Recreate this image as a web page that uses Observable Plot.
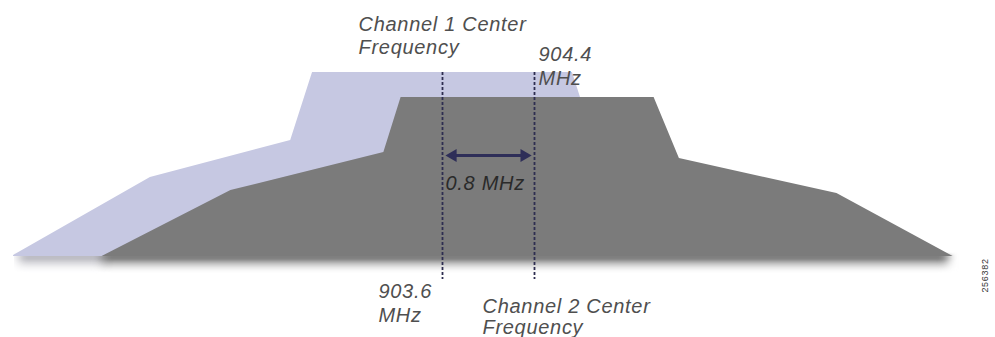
<!DOCTYPE html>
<html><head><meta charset="utf-8">
<script src="https://cdn.jsdelivr.net/npm/d3@7"></script>
<script src="https://cdn.jsdelivr.net/npm/@observablehq/plot@0.6"></script>
<style>body{margin:0;background:#fff}</style>
</head><body><div id="chart"></div>
<script>
// Channel spectra: frequency (MHz) and relative level
const channel1Freq  = [899.87, 901.06, 902.28, 902.47, 904.73, 904.92, 906.14, 907.33];
const channel1Level = [1, 79, 116, 184, 184, 116, 79, 1];
const channel2Freq  = [900.64, 901.76, 903.09, 903.24, 905.44, 905.66, 907.03, 908.04];
const channel2Level = [0, 66, 104, 159, 159, 98, 63, 0];
// Center frequencies and the spacing arrow
const centerFreqs = [903.6, 904.4];
const centerLineTop = 184, centerLineBottom = -23;
const spacingFreqs = [903.627, 904.374];
const spacingLevel = 101;
// Labels
const labelText  = ["Channel 1 Center", "Frequency", "904.4", "MHz", "0.8 MHz", "903.6", "MHz", "Channel 2 Center", "Frequency"];
const labelFreq  = [902.870, 902.870, 904.435, 904.435, 903.626, 903.043, 903.043, 903.948, 903.948];
const labelLevel = [226, 203, 196, 172, 67, -41, -65, -56, -77];
const labelInside = [false, false, false, false, true, false, false, false, false];
const figureNumber = ["256382"];
const figureFreq = [908.322], figureLevel = [-19];
// Ground shadow segments
const shadowFrom  = [899.92, 900.64];
const shadowTo    = [900.70, 908.00];
const shadowTone  = ["#bdbdc4", "#7f7f7f"];
const shadowDepth = -18;

const W = 995, H = 337;
const pxPerMHz = 115, refPx = 442;
const xDomain = [centerFreqs[0] - refPx / pxPerMHz, centerFreqs[0] + (W - refPx) / pxPerMHz];

const ch1 = channel1Freq.map((f, i) => ({f, l: channel1Level[i]}));
const ch2 = channel2Freq.map((f, i) => ({f, l: channel2Level[i]}));
const labels = labelText.map((t, i) => ({t, f: labelFreq[i], l: labelLevel[i], inside: labelInside[i]}));
const spacing = [{a: spacingFreqs[0] + 0.05, b: spacingFreqs[1] - 0.05, l: spacingLevel}];

function shadow(index, {x, y}) {
  const g = d3.create("svg:g");
  const defs = g.append("defs");
  const flt = defs.append("filter").attr("id", "shadowBlur")
    .attr("x", "-5%").attr("width", "110%").attr("y", "-20%").attr("height", "140%");
  flt.append("feGaussianBlur").attr("stdDeviation", "5 1");
  shadowFrom.forEach((f0, i) => {
    const grad = defs.append("linearGradient").attr("id", "shadowGrad" + i)
      .attr("x1", 0).attr("x2", 0).attr("y1", 0).attr("y2", 1);
    grad.append("stop").attr("offset", "0%").attr("stop-color", shadowTone[i]);
    grad.append("stop").attr("offset", "25%").attr("stop-color", shadowTone[i]);
    grad.append("stop").attr("offset", "100%").attr("stop-color", "#ffffff").attr("stop-opacity", 0);
    const x0 = x(f0), x1 = x(shadowTo[i]);
    const y0 = y(2), y1 = y(shadowDepth);
    g.append("rect").attr("x", x0).attr("y", y0).attr("width", x1 - x0).attr("height", y1 - y0)
      .attr("fill", `url(#shadowGrad${i})`).attr("filter", "url(#shadowBlur)");
  });
  return g.node();
}

const plot = Plot.plot({
  width: W, height: H,
  margin: 0,
  x: {domain: xDomain, range: [0, W], axis: null},
  y: {domain: [0, 256], range: [256, 0], axis: null},
  style: {fontFamily: "'Liberation Sans', Arial, sans-serif", background: "#fff", letterSpacing: "0.7px"},
  marks: [
    shadow,
    Plot.areaY(ch1, {x: "f", y: "l", fill: "#c6c8e2"}),
    Plot.areaY(ch2, {x: "f", y: "l", fill: "#7b7b7b"}),
    Plot.ruleX(centerFreqs, {x: d => d, y1: centerLineTop, y2: centerLineBottom, stroke: "#2d2d50", strokeWidth: 1.8, strokeDasharray: "3,2"}),
    Plot.link(spacing, {x1: "a", x2: "b", y1: "l", y2: "l", stroke: "#2e2e58", strokeWidth: 3}),
    Plot.dot(spacing, {x: d => d.a + 0.0135, y: "l", symbol: "triangle", r: 4.8, rotate: -90, fill: "#2e2e58", stroke: "none"}),
    Plot.dot(spacing, {x: d => d.b - 0.0135, y: "l", symbol: "triangle", r: 4.8, rotate: 90, fill: "#2e2e58", stroke: "none"}),
    Plot.text(labels, {x: "f", y: "l", text: "t", textAnchor: "start", lineAnchor: "bottom",
      fontSize: 20, fontStyle: "italic", fill: d => d.inside ? "#2a2a2a" : "#4f4f4f"}),
    Plot.text(figureNumber, {x: figureFreq, y: figureLevel, text: d => d, rotate: -90, fontSize: 9, fill: "#333", textAnchor: "middle"})
  ]
});
document.getElementById("chart").append(plot);
</script>
</body></html>
